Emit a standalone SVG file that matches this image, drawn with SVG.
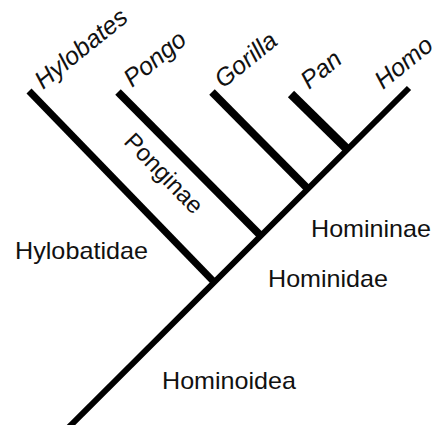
<svg xmlns="http://www.w3.org/2000/svg" width="440" height="425" viewBox="0 0 440 425">
<style>
.br{stroke:#000;fill:none;stroke-linecap:butt}
.lbl{font-family:"Liberation Sans",Arial,sans-serif;font-size:24px;fill:#111}
.tax{font-family:"Liberation Sans",Arial,sans-serif;font-size:25px;font-style:italic;fill:#111}
</style>
<rect width="440" height="425" fill="#fff"/>
<g id="connectors">
<line class="br" x1="64" y1="432" x2="409" y2="88" stroke-width="6"/>
<line class="br" x1="29" y1="91" x2="215" y2="283" stroke-width="7"/>
<line class="br" x1="118" y1="92" x2="262" y2="237" stroke-width="7.8"/>
<line class="br" x1="212" y1="92" x2="309" y2="190" stroke-width="7.8"/>
<line class="br" x1="291" y1="94" x2="349" y2="151" stroke-width="8.8"/>
</g>
<g id="hylobates"><text class="tax" transform="translate(43,90) rotate(-39)">Hylobates</text></g>
<g id="pongo"><text class="tax" transform="translate(132,88) rotate(-39)">Pongo</text></g>
<g id="gorilla"><text class="tax" transform="translate(223,89) rotate(-39)">Gorilla</text></g>
<g id="pan"><text class="tax" transform="translate(309,90) rotate(-39)">Pan</text></g>
<g id="homo"><text class="tax" font-size="24" transform="translate(383,90) rotate(-39)">Homo</text></g>
<g id="ponginae"><text class="lbl" text-anchor="middle" font-size="25" transform="translate(158,179) rotate(46)">Ponginae</text></g>
<g id="hylobatidae"><text class="lbl" x="15" y="259" textLength="133" lengthAdjust="spacingAndGlyphs">Hylobatidae</text></g>
<g id="homininae"><text class="lbl" x="311" y="237" textLength="120" lengthAdjust="spacingAndGlyphs">Homininae</text></g>
<g id="hominidae"><text class="lbl" x="268" y="287" textLength="120" lengthAdjust="spacingAndGlyphs">Hominidae</text></g>
<g id="hominoidea"><text class="lbl" x="162" y="389" textLength="134" lengthAdjust="spacingAndGlyphs">Hominoidea</text></g>
</svg>
